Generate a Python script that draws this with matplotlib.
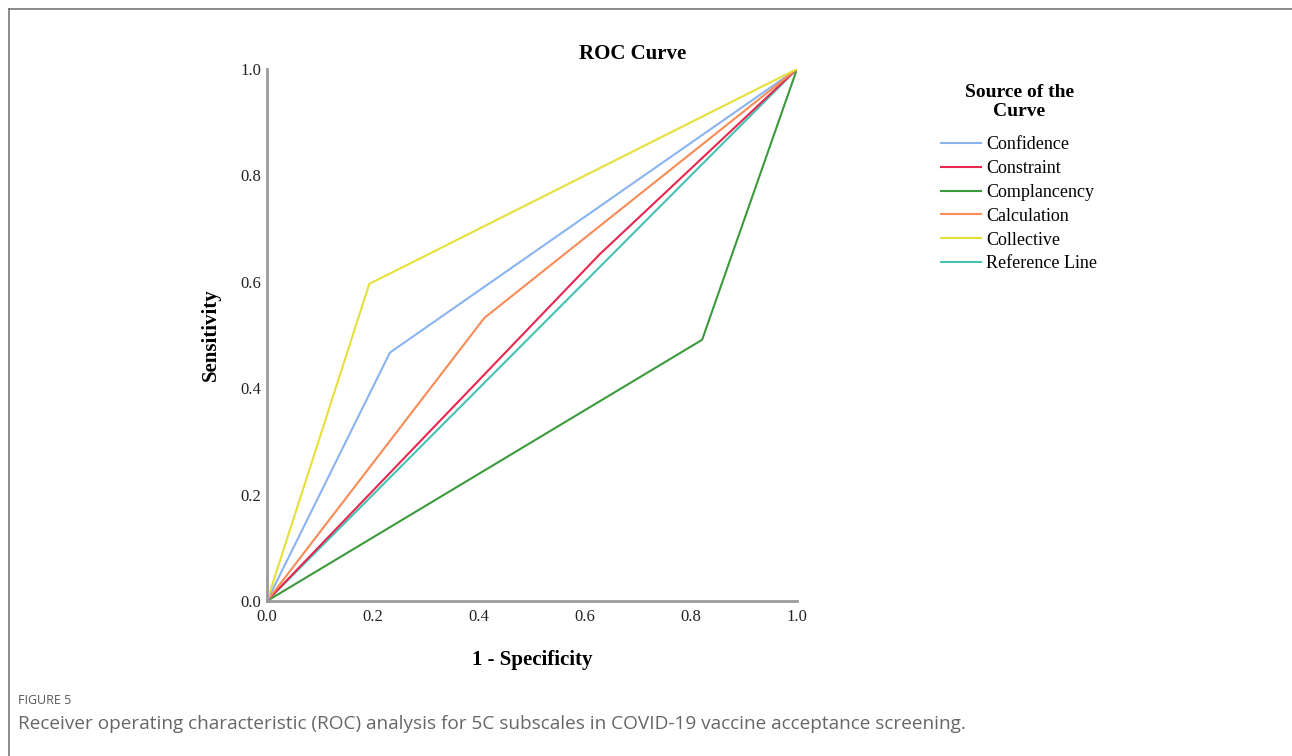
import matplotlib.pyplot as plt
from matplotlib.lines import Line2D

# ROC points (1 - specificity, sensitivity)
series_names = ["Confidence", "Constraint", "Complancency", "Calculation", "Collective", "Reference Line"]
confidence_x = [0.0, 0.232, 1.0]
confidence_y = [0.0, 0.467, 1.0]
constraint_x = [0.0, 0.628, 1.0]
constraint_y = [0.0, 0.652, 1.0]
complacency_x = [0.0, 0.821, 1.0]
complacency_y = [0.0, 0.491, 1.0]
calculation_x = [0.0, 0.41, 1.0]
calculation_y = [0.0, 0.532, 1.0]
collective_x = [0.0, 0.193, 1.0]
collective_y = [0.0, 0.596, 1.0]
reference_x = [0.0, 1.0]
reference_y = [0.0, 1.0]

tick_values = [0.0, 0.2, 0.4, 0.6, 0.8, 1.0]
tick_labels = ["0.0", "0.2", "0.4", "0.6", "0.8", "1.0"]

colors = ["#8ab4f0", "#e8264f", "#3b9a3b", "#f98b55", "#e6e03a", "#45c2b1"]
series = [(confidence_x, confidence_y), (constraint_x, constraint_y),
          (complacency_x, complacency_y), (calculation_x, calculation_y),
          (collective_x, collective_y), (reference_x, reference_y)]

serif = ["Liberation Serif", "DejaVu Serif"]

fig = plt.figure(figsize=(12.92, 7.56), dpi=100)
ax = fig.add_axes([267 / 1292, 155 / 756, 530 / 1292, 532 / 756])

# draw the reference line first so the others sit on top
order = [5, 0, 1, 2, 3, 4]
handles = {}
for i in order:
    xs, ys = series[i]
    h, = ax.plot(xs, ys, color=colors[i], lw=1.5, label=series_names[i], solid_joinstyle="round")
    handles[i] = h

ax.set_xlim(0, 1)
ax.set_ylim(0, 1)
ax.set_xticks(tick_values)
ax.set_xticklabels(tick_labels)
ax.set_yticks(tick_values)
ax.set_yticklabels(tick_labels)
ax.tick_params(length=0, labelsize=12, colors="#222222")
ax.tick_params(axis="x", pad=6)
ax.tick_params(axis="y", pad=4)
for lab in ax.get_xticklabels() + ax.get_yticklabels():
    lab.set_family(serif)
for lab in ax.get_yticklabels():
    lab.set_va("center_baseline")

for side in ["top", "right"]:
    ax.spines[side].set_visible(False)
for side in ["left", "bottom"]:
    ax.spines[side].set_color("#9a9a9a")
    ax.spines[side].set_linewidth(2)

ax.set_title("ROC Curve", family=serif, fontsize=15, fontweight="bold", pad=7, x=0.69)
ax.set_xlabel("1 - Specificity", family=serif, fontsize=15, fontweight="bold", labelpad=18)
ax.set_ylabel("Sensitivity", family=serif, fontsize=15, fontweight="bold", labelpad=14)

leg = fig.legend([handles[i] for i in range(6)], series_names,
                 loc="upper left", bbox_to_anchor=(934 / 1292, 1 - 77 / 756),
                 title="Source of the\nCurve", frameon=False,
                 prop={"family": serif, "size": 13},
                 title_fontproperties={"family": serif, "size": 14, "weight": "bold"},
                 handlelength=2.2, handletextpad=0.3, labelspacing=0.38,
                 borderaxespad=0)
leg._legend_box.align = "center"
leg.get_title().set_multialignment("center")
leg.get_title().set_linespacing(1.1)
leg._legend_box.sep = 12

# figure frame (top and left edges only)
fig.add_artist(Line2D([9 / 1292, 1.0], [1 - 9 / 756, 1 - 9 / 756], color="#777777", lw=1.2))
fig.add_artist(Line2D([9 / 1292, 9 / 1292], [0.0, 1 - 9 / 756], color="#777777", lw=1.2))

fig.text(18 / 1292, 1 - 700 / 756, "FIGURE 5", family=["Open Sans", "DejaVu Sans"],
         fontsize=9, color="#555555", va="center")
fig.text(18 / 1292, 1 - 724 / 756,
         "Receiver operating characteristic (ROC) analysis for 5C subscales in COVID-19 vaccine acceptance screening.",
         family=["Open Sans", "DejaVu Sans"], fontsize=13.7, color="#666666", va="center")

fig.savefig("out.png", dpi=100)
